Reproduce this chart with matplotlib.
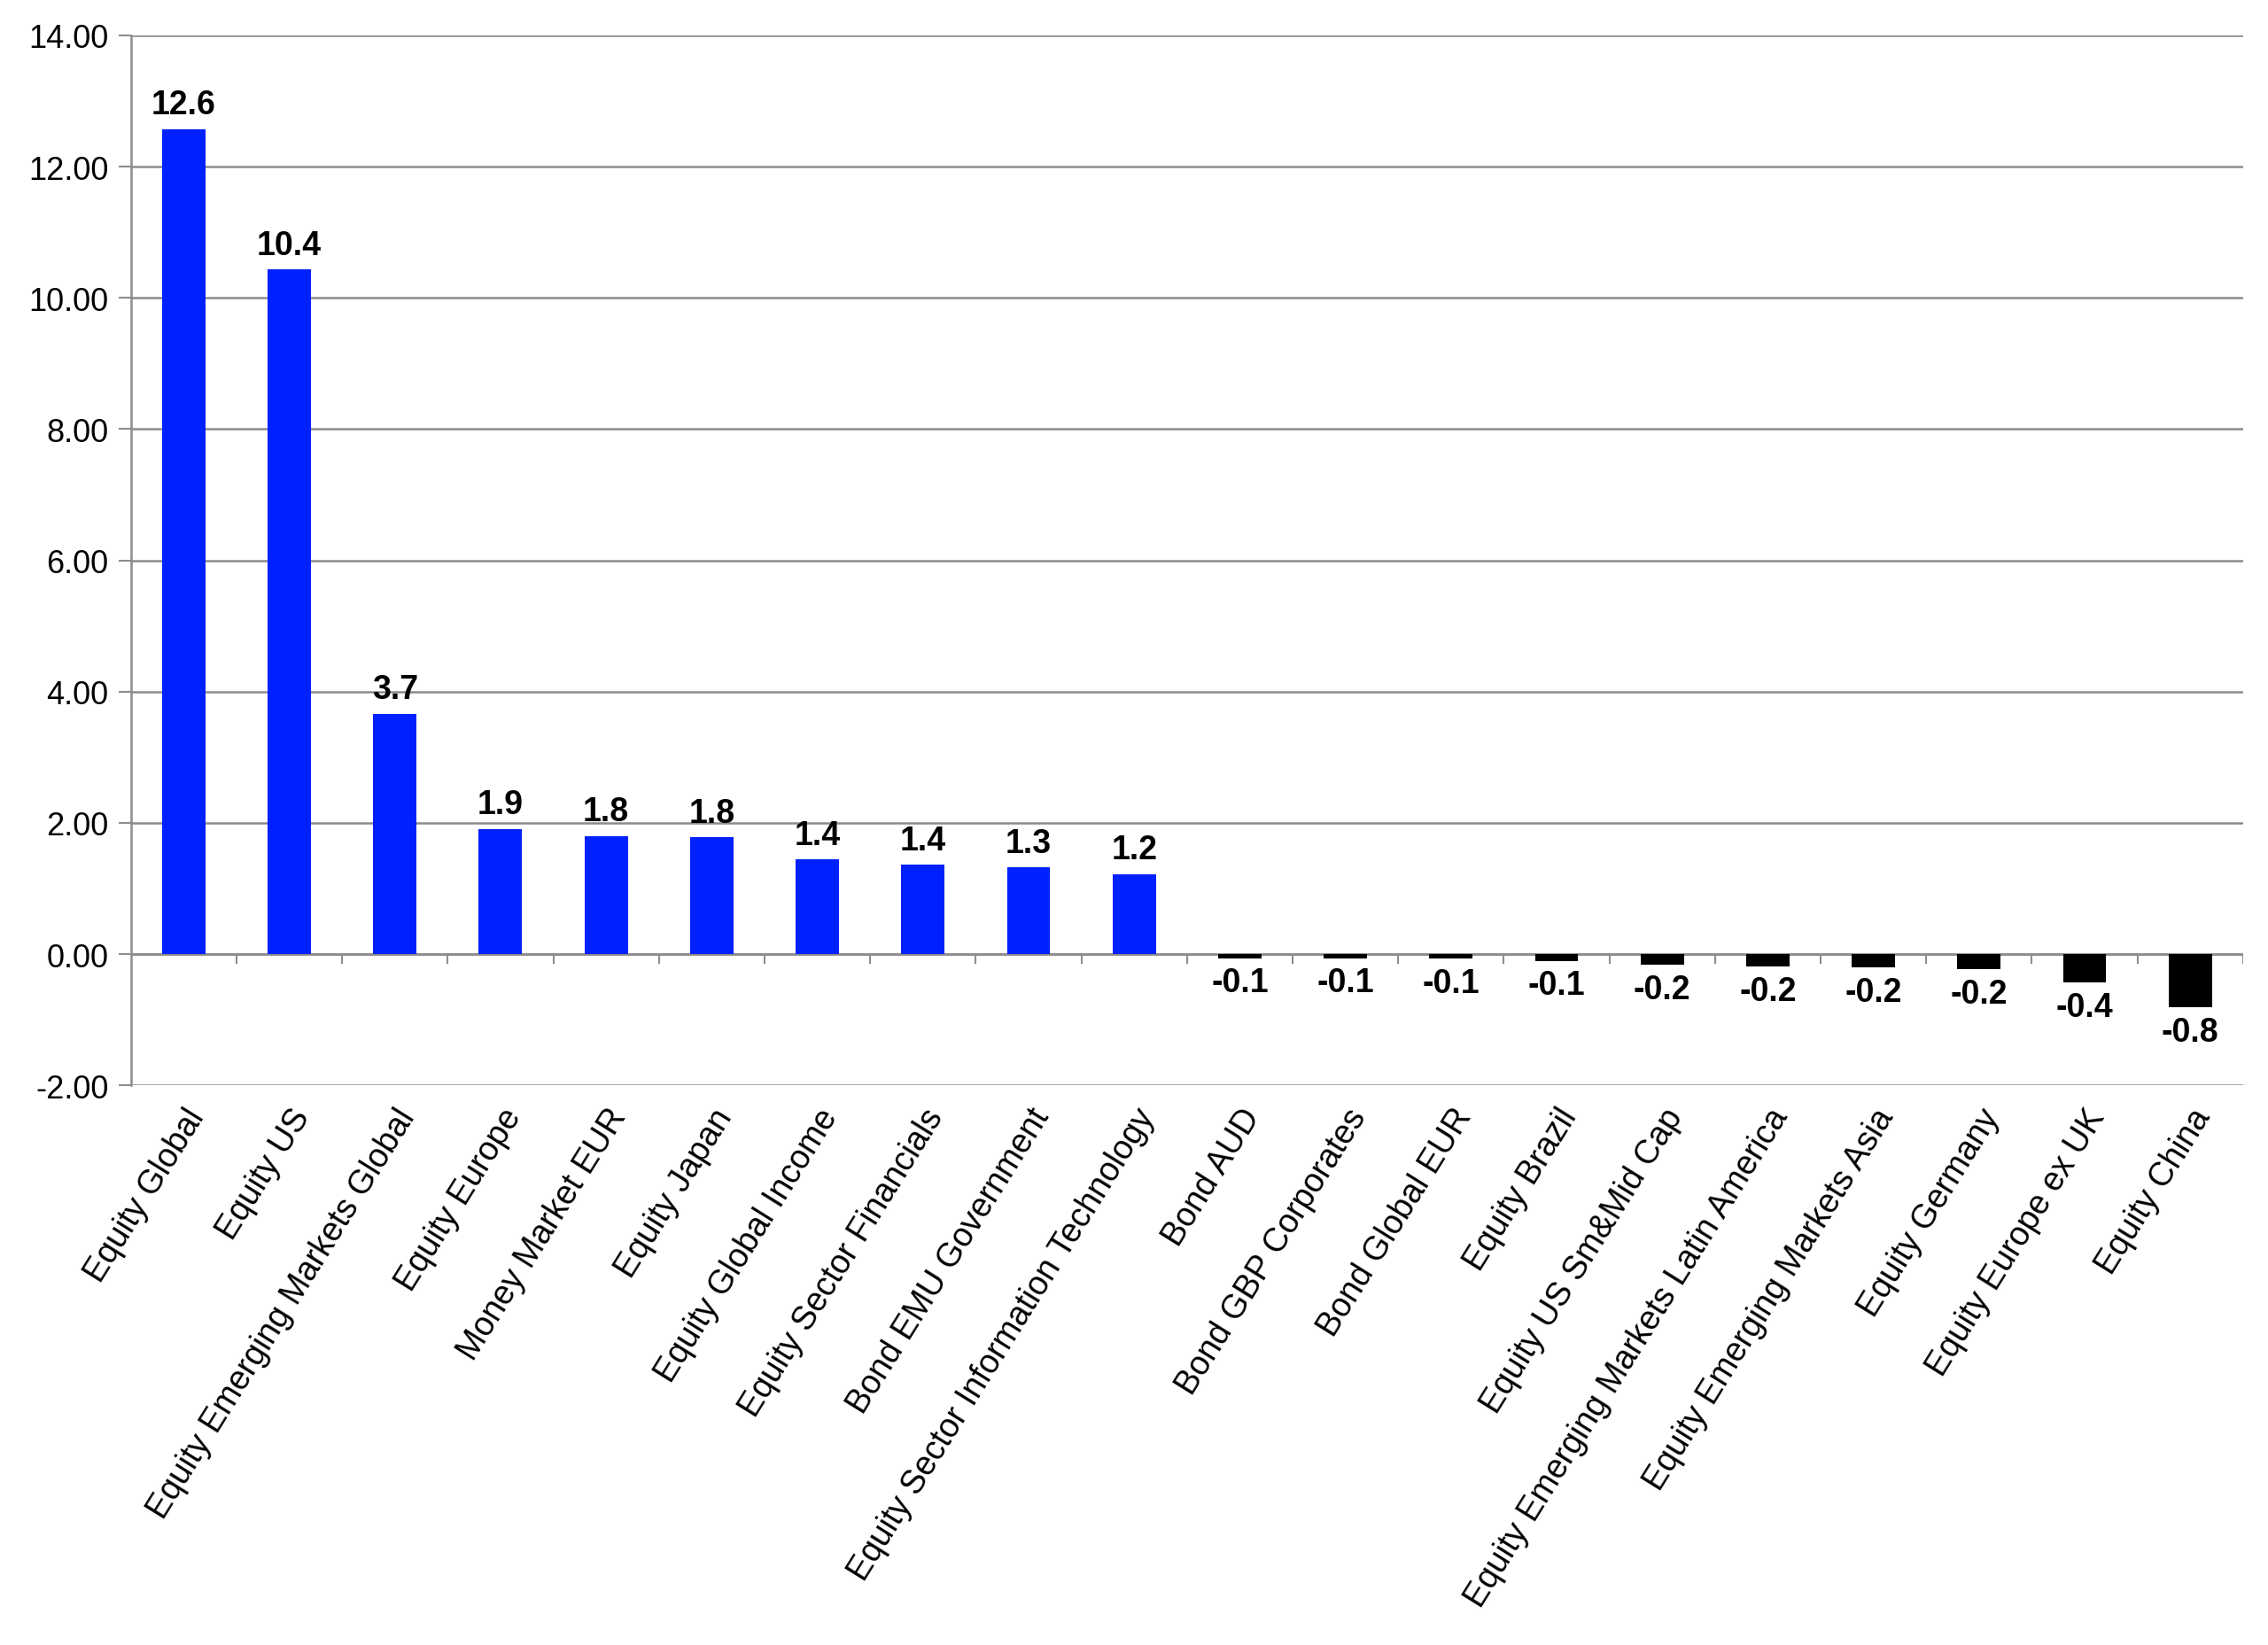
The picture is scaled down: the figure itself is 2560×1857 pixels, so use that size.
import numpy as np
from matplotlib import pyplot as plt

# sector flows
categories = ['Equity Global', 'Equity US', 'Equity Emerging Markets Global',
              'Equity Europe', 'Money Market EUR', 'Equity Japan',
              'Equity Global Income', 'Equity Sector Financials',
              'Bond EMU Government', 'Equity Sector Information Technology',
              'Bond AUD', 'Bond GBP Corporates', 'Bond Global EUR',
              'Equity Brazil', 'Equity US Sm&Mid Cap',
              'Equity Emerging Markets Latin America',
              'Equity Emerging Markets Asia', 'Equity Germany',
              'Equity Europe ex UK', 'Equity China']
values = [12.57, 10.43, 3.66, 1.91, 1.80, 1.78, 1.44, 1.36, 1.32, 1.22,
          -0.06, -0.06, -0.07, -0.10, -0.16, -0.19, -0.20, -0.23, -0.43, -0.81]
y_ticks = [-2, 0, 2, 4, 6, 8, 10, 12, 14]

plt.rcParams['font.family'] = ['Liberation Sans', 'DejaVu Sans']

fig = plt.figure(figsize=(25.6, 18.58), dpi=100)
ax = fig.add_axes([0.0577, 0.34, 0.9313, 0.638])

x = np.arange(len(categories))
colors = ['#0020FF' if v >= 0 else 'black' for v in values]
ax.bar(x, values, width=0.41, color=colors, zorder=3)

for xi, v in zip(x, values):
    if v >= 0:
        ax.annotate(f'{v:.1f}', (xi, v), xytext=(0, 7), textcoords='offset points',
                    ha='center', va='bottom', fontsize=27, fontweight='bold')
    else:
        ax.annotate(f'{v:.1f}', (xi, v), xytext=(0, -7), textcoords='offset points',
                    ha='center', va='top', fontsize=27, fontweight='bold')

ax.set_xlim(-0.5, len(categories) - 0.5)
ax.set_ylim(-2, 14)
ax.set_yticks(y_ticks)
ax.set_yticklabels([f'{t:.2f}' for t in y_ticks], fontsize=26)
ax.yaxis.grid(True, color='#8c8c8c', linewidth=1.8, zorder=0)

# zero line with category boundary ticks
ax.axhline(0, color='#8c8c8c', linewidth=1.8, zorder=2)
bounds = np.arange(len(categories) + 1) - 0.5
ax.vlines(bounds[1:], -0.15, 0, color='#8c8c8c', linewidth=1.5, zorder=2)

ax.set_xticks(x)
ax.set_xticklabels(categories, rotation=58, ha='right', rotation_mode='anchor',
                   fontsize=27)
ax.tick_params(axis='x', length=0, pad=14)
ax.tick_params(axis='y', length=10, width=1.5, color='#8c8c8c', pad=8)

for side in ['top', 'right', 'bottom']:
    ax.spines[side].set_visible(False)
ax.spines['left'].set_color('#8c8c8c')
ax.spines['left'].set_linewidth(1.8)

plt.savefig('out.png', dpi=100)
plt.close()
